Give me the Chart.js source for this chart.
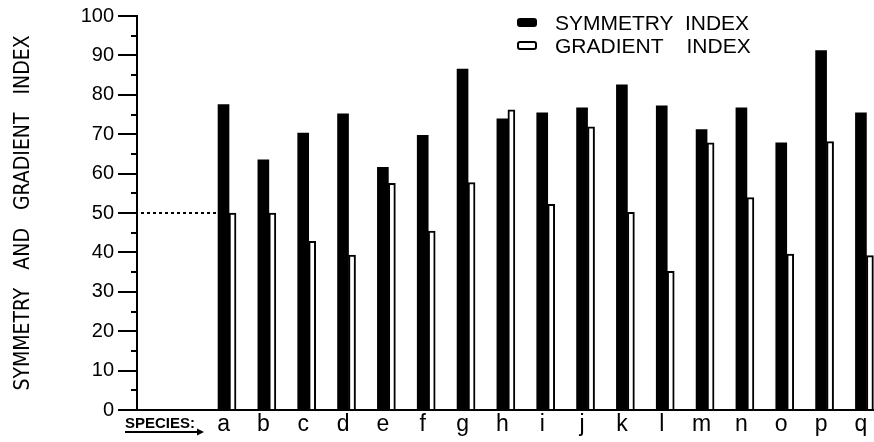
<!DOCTYPE html>
<html>
<head>
<meta charset="utf-8">
<script src="https://cdn.jsdelivr.net/npm/chart.js@4.4.1/dist/chart.umd.min.js"></script>
<style>
  html, body { margin: 0; padding: 0; background: #fff; }
  #wrap { position: relative; width: 874px; height: 442px; }
  canvas { display: block; }
  .lg-swatch { position: absolute; width: 20px; height: 9px; box-sizing: border-box; border-radius: 3px; }
  .lg-text { position: absolute; font-family: "Liberation Sans", Arial, sans-serif; font-size: 21px; line-height: 21px; color: #000; white-space: pre; }
</style>
</head>
<body>
<div id="wrap">
  <canvas id="c" width="874" height="442"></canvas>
</div>
<script>
// ---- data ----
const species = ['a','b','c','d','e','f','g','h','i','j','k','l','m','n','o','p','q'];
const symmetryIndex = [77.5, 63.5, 70.3, 75.2, 61.6, 69.7, 86.5, 73.9, 75.4, 76.7, 82.5, 77.2, 71.2, 76.7, 67.8, 91.2, 75.4];
const gradientIndex = [50.0, 50.0, 42.8, 39.3, 57.5, 45.4, 57.7, 76.2, 52.2, 71.9, 50.2, 35.2, 67.8, 53.9, 39.6, 68.1, 39.2];
const seriesLabels = ['SYMMETRY  INDEX', 'GRADIENT    INDEX'];
const yTickValues = [0, 10, 20, 30, 40, 50, 60, 70, 80, 90, 100];
const yMinorTickValues = [5, 15, 25, 35, 45, 55, 65, 75, 85, 95];
const yAxisTitle = 'SYMMETRY   AND   GRADIENT   INDEX';
const xAxisCaption = 'SPECIES:';
const referenceValue = 50;

const FONT = '"Liberation Sans", Arial, sans-serif';
const NARROW = '"Liberation Sans Narrow", "DejaVu Sans Condensed", "Liberation Sans", sans-serif';

const decor = {
  id: 'decor',
  afterDraw(chart) {
    const { ctx, scales: { x, y }, chartArea } = chart;
    ctx.save();
    ctx.strokeStyle = '#000';
    ctx.fillStyle = '#000';
    ctx.lineWidth = 2;
    // minor ticks on y axis
    yMinorTickValues.forEach(v => {
      const py = Math.round(y.getPixelForValue(v));
      ctx.beginPath();
      ctx.moveTo(chartArea.left - 6, py);
      ctx.lineTo(chartArea.left, py);
      ctx.stroke();
    });
    // dotted reference line to first bar
    const bar = chart.getDatasetMeta(0).data[0];
    const py = Math.round(y.getPixelForValue(referenceValue));
    ctx.setLineDash([3, 3]);
    ctx.beginPath();
    ctx.moveTo(chartArea.left + 4, py);
    ctx.lineTo(bar.x - bar.width / 2 - 1, py);
    ctx.stroke();
    ctx.setLineDash([]);
    // SPECIES caption with arrow underline
    ctx.font = 'bold 15px ' + FONT;
    ctx.textBaseline = 'alphabetic';
    ctx.textAlign = 'left';
    const sx = chartArea.left - 12;
    const sy = chartArea.bottom + 18;
    ctx.fillText(xAxisCaption, sx, sy);
    const w = ctx.measureText(xAxisCaption).width;
    ctx.lineWidth = 1.8;
    ctx.beginPath();
    ctx.moveTo(sx, sy + 4);
    ctx.lineTo(sx + w + 5, sy + 4);
    ctx.stroke();
    ctx.beginPath();
    ctx.moveTo(sx + w + 9, sy + 4);
    ctx.lineTo(sx + w + 2, sy + 0.5);
    ctx.lineTo(sx + w + 2, sy + 7.5);
    ctx.closePath();
    ctx.fill();
    ctx.restore();
  }
};

const chart = new Chart(document.getElementById('c'), {
  type: 'bar',
  data: {
    datasets: [
      {
        label: seriesLabels[0],
        data: species.map((s, i) => ({ x: i + 1, y: symmetryIndex[i] })),
        backgroundColor: '#000',
        borderWidth: 0,
        barThickness: 11
      },
      {
        label: seriesLabels[1],
        data: species.map((s, i) => ({ x: i + 1, y: gradientIndex[i] })),
        backgroundColor: '#fff',
        borderColor: '#000',
        borderWidth: 2,
        barThickness: 7
      }
    ]
  },
  options: {
    responsive: false,
    animation: false,
    layout: { padding: { top: 10, right: 0, bottom: 0, left: 0 } },
    plugins: { legend: { display: false }, tooltip: { enabled: false } },
    scales: {
      x: {
        type: 'linear',
        min: -1.31,
        max: 17.19,
        offset: false,
        grid: { display: false, drawTicks: false },
        border: { display: true, color: '#000', width: 2 },
        afterBuildTicks: s => { s.ticks = species.map((_, i) => ({ value: i + 1 })); },
        afterFit: s => { s.height = 32; },
        ticks: {
          autoSkip: false,
          maxRotation: 0,
          labelOffset: -5.5,
          padding: 1,
          color: '#000',
          font: { family: FONT, size: 23 },
          callback: v => species[v - 1]
        }
      },
      y: {
        min: 0,
        max: 100,
        afterBuildTicks: s => { s.ticks = yTickValues.map(v => ({ value: v })); },
        afterFit: s => { s.width = 137; },
        grid: { drawOnChartArea: false, drawTicks: true, tickLength: 19, lineWidth: 2, color: '#000' },
        border: { color: '#000', width: 2 },
        ticks: { color: '#000', padding: 4, font: { family: FONT, size: 20 } },
        title: {
          display: true,
          text: yAxisTitle,
          color: '#000',
          font: { family: NARROW, size: 21 },
          padding: { top: 11, bottom: 0 }
        }
      }
    }
  },
  plugins: [decor]
});

// HTML legend built from the chart datasets
const wrap = document.getElementById('wrap');
chart.data.datasets.forEach((ds, i) => {
  const top = 12 + i * 23;
  const sw = document.createElement('div');
  sw.className = 'lg-swatch';
  sw.style.left = '517px';
  sw.style.top = (top + 6) + 'px';
  sw.style.background = ds.backgroundColor;
  if (ds.borderWidth) sw.style.border = '2px solid ' + ds.borderColor;
  wrap.appendChild(sw);
  const tx = document.createElement('div');
  tx.className = 'lg-text';
  tx.style.left = '555px';
  tx.style.top = top + 'px';
  tx.textContent = ds.label;
  wrap.appendChild(tx);
});
</script>
</body>
</html>
